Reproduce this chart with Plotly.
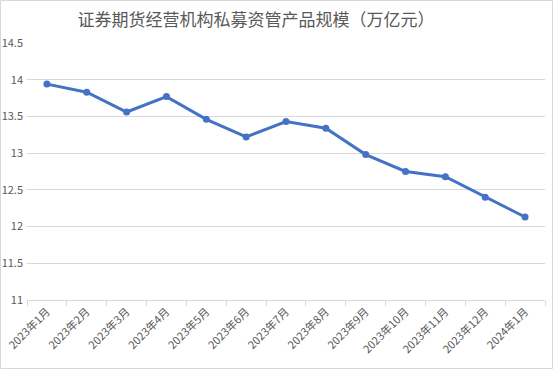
import plotly.graph_objects as go

categories = ["2023年1月", "2023年2月", "2023年3月", "2023年4月", "2023年5月", "2023年6月",
              "2023年7月", "2023年8月", "2023年9月", "2023年10月", "2023年11月", "2023年12月", "2024年1月"]
values = [13.94, 13.83, 13.56, 13.77, 13.46, 13.22, 13.43, 13.34, 12.98, 12.75, 12.68, 12.40, 12.13]
y_ticks = [11, 11.5, 12, 12.5, 13, 13.5, 14, 14.5]
y_labels = ["11", "11.5", "12", "12.5", "13", "13.5", "14", "14.5"]

W, H = 554, 371
ml, mr, mt, mb = 27, 9, 43, 71
pw, ph = W - ml - mr, H - mt - mb

fig = go.Figure()
fig.add_trace(go.Scatter(
    x=categories, y=values, mode="lines+markers",
    line=dict(color="#4472C4", width=3),
    marker=dict(color="#4472C4", size=7),
    hoverinfo="x+y", showlegend=False,
))

fig.update_layout(
    width=W, height=H,
    margin=dict(l=ml, r=mr, t=mt, b=mb, autoexpand=False),
    paper_bgcolor="white", plot_bgcolor="white",
    font=dict(family="Noto Sans CJK SC, sans-serif", color="#595959"),
    title=dict(text="证券期货经营机构私募资管产品规模（万亿元）", x=256 / W, xanchor="center",
               y=1 - 20 / H, yanchor="middle",
               font=dict(size=17, color="#595959", family="Noto Sans CJK SC, sans-serif")),
    xaxis=dict(
        type="category", tickangle=-45, tickson="boundaries", ticks="outside",
        ticklen=5, tickcolor="#D9D9D9", showline=True, linecolor="#D9D9D9", linewidth=1,
        showgrid=False, tickfont=dict(size=11, color="#595959"), range=[-0.5, 12.5],
        automargin=False,
    ),
    yaxis=dict(
        range=[11, 14.5], tickvals=y_ticks, ticktext=y_labels,
        showgrid=True, gridcolor="#D9D9D9", gridwidth=1, zeroline=False,
        showline=False, ticks="", tickfont=dict(size=11, color="#595959"),
        automargin=False, ticklabelstandoff=3,
    ),
    shapes=[dict(type="rect", xref="paper", yref="paper",
                 x0=(0.5 - ml) / pw, x1=(W - 1.5 - ml) / pw,
                 y0=(H - mb - (H - 2.5)) / ph, y1=(H - mb - 0.5) / ph,
                 line=dict(color="#D9D9D9", width=1), layer="below")],
)

fig.write_html("out.html", config={"displayModeBar": False},
               post_script="document.body.style.margin='0';document.body.style.overflow='hidden';")
